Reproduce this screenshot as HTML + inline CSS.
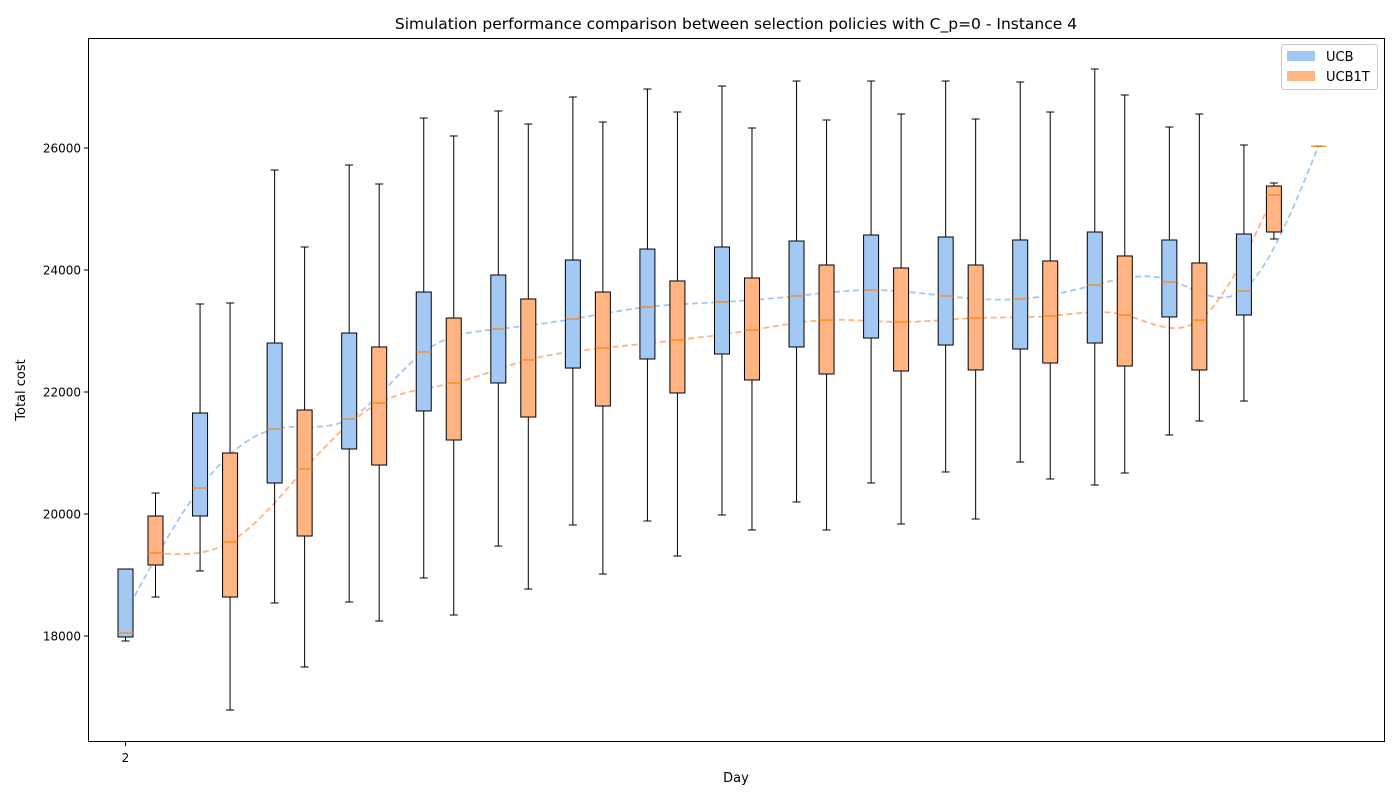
<!DOCTYPE html>
<html><head><meta charset="utf-8"><style>
body{margin:0;background:#fff;font-family:"Liberation Sans","DejaVu Sans",sans-serif;}
svg text{font-family:"DejaVu Sans","Liberation Sans",sans-serif;}
</style></head><body>
<svg id="chart" width="1400" height="800" xmlns="http://www.w3.org/2000/svg">
<rect x="0" y="0" width="1400" height="800" fill="#fff"/>
<text x="736" y="29" font-size="15.5" text-anchor="middle">Simulation performance comparison between selection policies with C_p=0 - Instance 4</text>
<g id="plot"></g>
<rect x="88.5" y="38.5" width="1296" height="703" fill="none" stroke="#000" stroke-width="1"/>
<text x="736" y="782" font-size="13" text-anchor="middle">Day</text>
<text x="0" y="0" font-size="13" text-anchor="middle" transform="translate(25,390) rotate(-90)">Total cost</text>
<g>
<rect x="1281.5" y="44.5" width="96" height="45" rx="3" fill="#fff" fill-opacity="0.8" stroke="#ccc"/>
<rect x="1287" y="51" width="28" height="10" fill="#a1c9f4"/>
<text x="1326" y="61" font-size="13">UCB</text>
<rect x="1287" y="71" width="28" height="10" fill="#ffb482"/>
<text x="1326" y="81" font-size="13">UCB1T</text>
</g>
</svg>
<script>
const ucbLo  = [17918,19066,18541,18557,18951,19475,19820,19885,19984,20197,20508,20689,20852,20475,21295,21852,26030];
const ucbQ1  = [17984,19967,20508,21066,21689,22148,22393,22541,22623,22738,22885,22770,22705,22803,23230,23262,26030];
const ucbMed = [18049,20426,21393,21557,22656,23033,23197,23393,23475,23574,23672,23574,23525,23754,23803,23655,26030];
const ucbQ3  = [19098,21656,22803,22967,23639,23918,24164,24344,24377,24475,24574,24541,24492,24623,24492,24590,26030];
const ucbHi  = [19098,23443,25639,25721,26492,26607,26836,26967,27016,27098,27098,27098,27082,27295,26344,26049,26030];
const ucbTrend=[18380,20426,21393,21557,22656,23033,23197,23393,23475,23574,23672,23574,23525,23754,23840,23680,26030];
const tLo  = [18639,16787,17492,18246,18344,18770,19016,19311,19738,19738,19836,19918,20574,20672,21525,24508];
const tQ1  = [19164,18639,19639,20803,21213,21590,21770,21984,22197,22295,22344,22361,22475,22426,22361,24623];
const tMed = [19361,19541,20738,21820,22148,22525,22721,22852,23016,23180,23148,23213,23246,23262,23180,25230];
const tQ3  = [19967,21000,21705,22738,23213,23525,23639,23820,23869,24082,24033,24082,24148,24230,24115,25377];
const tHi  = [20344,23459,24377,25410,26197,26393,26426,26590,26328,26459,26557,26475,26590,26869,26557,25426];
const xTicks=[2];
const yTicks=[18000,20000,22000,24000,26000];

const NS="http://www.w3.org/2000/svg";
const plot=document.getElementById('plot');
const yS=v=>636-(v-18000)*0.061;
const xS=(i,off)=>125.5+i*74.56+off;
function el(tag,a,parent){const e=document.createElementNS(NS,tag);for(const k in a)e.setAttribute(k,a[k]);(parent||plot).appendChild(e);return e;}

yTicks.forEach(v=>{
  const y=yS(v);
  const t=el('line',{x1:84,x2:88,y1:y,y2:y,stroke:'#000'});
  
  
  const l=el('text',{x:81,y:y+4.5,'font-size':12,'text-anchor':'end'});l.textContent=v;
  
  
});
xTicks.forEach(d=>{
  const x=xS(d-2,0);
  el('line',{x1:x,x2:x,y1:742,y2:746,stroke:'#000'});
  const l=el('text',{x:x,y:762,'font-size':12,'text-anchor':'middle'});l.textContent=d;
  
  
});

function spline(xs,ys){
  const n=xs.length,h=[],al=[],l=[1],mu=[0],z=[0],c=new Array(n).fill(0),b=[],d=[];
  for(let i=0;i<n-1;i++)h.push(xs[i+1]-xs[i]);
  for(let i=1;i<n-1;i++)al[i]=3/h[i]*(ys[i+1]-ys[i])-3/h[i-1]*(ys[i]-ys[i-1]);
  for(let i=1;i<n-1;i++){l[i]=2*(xs[i+1]-xs[i-1])-h[i-1]*mu[i-1];mu[i]=h[i]/l[i];z[i]=(al[i]-h[i-1]*z[i-1])/l[i];}
  l[n-1]=1;z[n-1]=0;
  for(let j=n-2;j>=0;j--){c[j]=z[j]-mu[j]*c[j+1];b[j]=(ys[j+1]-ys[j])/h[j]-h[j]*(c[j+1]+2*c[j])/3;d[j]=(c[j+1]-c[j])/(3*h[j]);}
  let p='';
  for(let j=0;j<n-1;j++)for(let s=0;s<=20;s++){const dx=h[j]*s/20;const v=ys[j]+b[j]*dx+c[j]*dx*dx+d[j]*dx*dx*dx;p+=(p?'L':'M')+(xs[j]+dx).toFixed(1)+','+v.toFixed(1)+' ';}
  return p;
}
const bx=ucbTrend.map((v,i)=>xS(i,0)),by=ucbTrend.map(yS);
const tx=tMed.map((v,i)=>xS(i,30)),ty=tMed.map(yS);
const c1=el('path',{d:spline(bx,by),fill:'none',stroke:'#a1c9f4','stroke-width':1.8,'stroke-dasharray':'6,3.5'});


const c2=el('path',{d:spline(tx,ty),fill:'none',stroke:'#ffb482','stroke-width':1.8,'stroke-dasharray':'6,3.5'});



function box(x,lo,q1,med,q3,hi,fill,name){
  const g=el('g',{});
  
  
  el('line',{x1:x,x2:x,y1:yS(hi),y2:yS(q3),stroke:'#000'},g);
  el('line',{x1:x,x2:x,y1:yS(q1),y2:yS(lo),stroke:'#000'},g);
  el('line',{x1:x-4,x2:x+4,y1:yS(hi),y2:yS(hi),stroke:'#000'},g);
  el('line',{x1:x-4,x2:x+4,y1:yS(lo),y2:yS(lo),stroke:'#000'},g);
  el('rect',{x:x-7.5,y:yS(q3),width:15,height:Math.max(yS(q1)-yS(q3),0),fill:fill,stroke:'#000'},g);
  el('line',{x1:x-7.5,x2:x+7.5,y1:yS(med),y2:yS(med),stroke:'#ff7f0e','stroke-width':1.2},g);
}
ucbMed.forEach((m,i)=>box(xS(i,0),ucbLo[i],ucbQ1[i],m,ucbQ3[i],ucbHi[i],'#a1c9f4','box-ucb-day-'+(i+2)));
tMed.forEach((m,i)=>box(xS(i,30),tLo[i],tQ1[i],m,tQ3[i],tHi[i],'#ffb482','box-ucb1t-day-'+(i+2)));
</script>
</body></html>
